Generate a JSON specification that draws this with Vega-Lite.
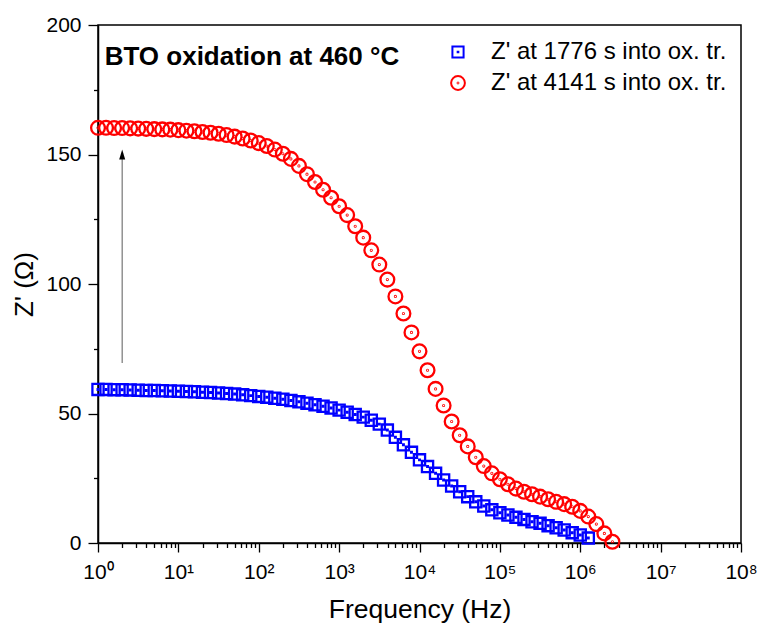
{
  "$schema": "https://vega.github.io/schema/vega-lite/v6.json",
  "width": 643,
  "height": 518,
  "autosize": {"type": "none"},
  "padding": {"left": 98, "top": 25, "right": 19, "bottom": 83},
  "background": "white",
  "config": {
    "font": "Liberation Sans",
    "view": {"stroke": "black", "strokeWidth": 1.5},
    "axis": {"domainColor": "black", "domainWidth": 1.5, "tickColor": "black", "tickWidth": 1.3, "labelColor": "black", "titleColor": "black", "grid": false}
  },
  "datasets": {
    "series": [
      {"f": 1, "z": 59.3, "s": "1776"}, {"f": 1.259, "z": 59.3, "s": "1776"}, {"f": 1.585, "z": 59.2, "s": "1776"}, {"f": 1.995, "z": 59.2, "s": "1776"}, {"f": 2.512, "z": 59.1, "s": "1776"}, {"f": 3.162, "z": 59.0, "s": "1776"}, {"f": 3.981, "z": 58.9, "s": "1776"}, {"f": 5.012, "z": 58.9, "s": "1776"}, {"f": 6.31, "z": 58.8, "s": "1776"}, {"f": 7.943, "z": 58.7, "s": "1776"},
      {"f": 10, "z": 58.6, "s": "1776"}, {"f": 12.59, "z": 58.5, "s": "1776"}, {"f": 15.85, "z": 58.4, "s": "1776"}, {"f": 19.95, "z": 58.2, "s": "1776"}, {"f": 25.12, "z": 58.1, "s": "1776"}, {"f": 31.62, "z": 57.9, "s": "1776"}, {"f": 39.81, "z": 57.7, "s": "1776"}, {"f": 50.12, "z": 57.5, "s": "1776"}, {"f": 63.1, "z": 57.2, "s": "1776"}, {"f": 79.43, "z": 56.9, "s": "1776"},
      {"f": 100, "z": 56.6, "s": "1776"}, {"f": 125.9, "z": 56.3, "s": "1776"}, {"f": 158.5, "z": 55.9, "s": "1776"}, {"f": 199.5, "z": 55.5, "s": "1776"}, {"f": 251.2, "z": 55.0, "s": "1776"}, {"f": 316.2, "z": 54.5, "s": "1776"}, {"f": 398.1, "z": 54.0, "s": "1776"}, {"f": 501.2, "z": 53.4, "s": "1776"}, {"f": 631, "z": 52.8, "s": "1776"}, {"f": 794.3, "z": 52.1, "s": "1776"},
      {"f": 1000, "z": 51.3, "s": "1776"}, {"f": 1259, "z": 50.5, "s": "1776"}, {"f": 1585, "z": 49.6, "s": "1776"}, {"f": 1995, "z": 48.6, "s": "1776"}, {"f": 2512, "z": 47.4, "s": "1776"}, {"f": 3162, "z": 45.9, "s": "1776"}, {"f": 3981, "z": 43.6, "s": "1776"}, {"f": 5012, "z": 40.8, "s": "1776"}, {"f": 6310, "z": 37.9, "s": "1776"}, {"f": 7943, "z": 35.0, "s": "1776"},
      {"f": 10000, "z": 32.1, "s": "1776"}, {"f": 12590, "z": 29.5, "s": "1776"}, {"f": 15850, "z": 26.9, "s": "1776"}, {"f": 19950, "z": 24.3, "s": "1776"}, {"f": 25120, "z": 22.0, "s": "1776"}, {"f": 31620, "z": 19.8, "s": "1776"}, {"f": 39810, "z": 17.9, "s": "1776"}, {"f": 50120, "z": 15.9, "s": "1776"}, {"f": 63100, "z": 14.3, "s": "1776"}, {"f": 79430, "z": 12.8, "s": "1776"},
      {"f": 100000, "z": 11.7, "s": "1776"}, {"f": 125900, "z": 10.8, "s": "1776"}, {"f": 158500, "z": 9.9, "s": "1776"}, {"f": 199500, "z": 9.1, "s": "1776"}, {"f": 251200, "z": 8.2, "s": "1776"}, {"f": 316200, "z": 7.6, "s": "1776"}, {"f": 398100, "z": 6.7, "s": "1776"}, {"f": 501200, "z": 5.9, "s": "1776"}, {"f": 631000, "z": 5.0, "s": "1776"}, {"f": 794300, "z": 4.0, "s": "1776"},
      {"f": 1000000, "z": 3.1, "s": "1776"}, {"f": 1259000, "z": 1.9, "s": "1776"},
      {"f": 1, "z": 160.3, "s": "4141"}, {"f": 1.259, "z": 160.3, "s": "4141"}, {"f": 1.585, "z": 160.2, "s": "4141"}, {"f": 1.995, "z": 160.2, "s": "4141"}, {"f": 2.512, "z": 160.1, "s": "4141"}, {"f": 3.162, "z": 160.0, "s": "4141"}, {"f": 3.981, "z": 159.9, "s": "4141"}, {"f": 5.012, "z": 159.8, "s": "4141"}, {"f": 6.31, "z": 159.7, "s": "4141"}, {"f": 7.943, "z": 159.6, "s": "4141"},
      {"f": 10, "z": 159.4, "s": "4141"}, {"f": 12.59, "z": 159.2, "s": "4141"}, {"f": 15.85, "z": 159.0, "s": "4141"}, {"f": 19.95, "z": 158.7, "s": "4141"}, {"f": 25.12, "z": 158.4, "s": "4141"}, {"f": 31.62, "z": 158.0, "s": "4141"}, {"f": 39.81, "z": 157.5, "s": "4141"}, {"f": 50.12, "z": 156.9, "s": "4141"}, {"f": 63.1, "z": 156.2, "s": "4141"}, {"f": 79.43, "z": 155.4, "s": "4141"},
      {"f": 100, "z": 154.4, "s": "4141"}, {"f": 125.9, "z": 153.3, "s": "4141"}, {"f": 158.5, "z": 151.9, "s": "4141"}, {"f": 199.5, "z": 150.3, "s": "4141"}, {"f": 251.2, "z": 148.3, "s": "4141"}, {"f": 316.2, "z": 145.6, "s": "4141"}, {"f": 398.1, "z": 142.4, "s": "4141"}, {"f": 501.2, "z": 139.4, "s": "4141"}, {"f": 631, "z": 136.4, "s": "4141"}, {"f": 794.3, "z": 133.3, "s": "4141"},
      {"f": 1000, "z": 130.0, "s": "4141"}, {"f": 1259, "z": 126.6, "s": "4141"}, {"f": 1585, "z": 122.3, "s": "4141"}, {"f": 1995, "z": 117.9, "s": "4141"}, {"f": 2512, "z": 113.0, "s": "4141"}, {"f": 3162, "z": 107.5, "s": "4141"}, {"f": 3981, "z": 101.7, "s": "4141"}, {"f": 5012, "z": 95.2, "s": "4141"}, {"f": 6310, "z": 88.6, "s": "4141"}, {"f": 7943, "z": 81.3, "s": "4141"},
      {"f": 10000, "z": 74.0, "s": "4141"}, {"f": 12590, "z": 66.7, "s": "4141"}, {"f": 15850, "z": 59.5, "s": "4141"}, {"f": 19950, "z": 53.1, "s": "4141"}, {"f": 25120, "z": 46.9, "s": "4141"}, {"f": 31620, "z": 41.6, "s": "4141"}, {"f": 39810, "z": 37.3, "s": "4141"}, {"f": 50120, "z": 33.1, "s": "4141"}, {"f": 63100, "z": 29.7, "s": "4141"}, {"f": 79430, "z": 26.9, "s": "4141"},
      {"f": 100000, "z": 24.6, "s": "4141"}, {"f": 125900, "z": 22.7, "s": "4141"}, {"f": 158500, "z": 21.0, "s": "4141"}, {"f": 199500, "z": 19.8, "s": "4141"}, {"f": 251200, "z": 18.8, "s": "4141"}, {"f": 316200, "z": 17.9, "s": "4141"}, {"f": 398100, "z": 16.9, "s": "4141"}, {"f": 501200, "z": 15.9, "s": "4141"}, {"f": 631000, "z": 15.0, "s": "4141"}, {"f": 794300, "z": 14.0, "s": "4141"},
      {"f": 1000000, "z": 12.4, "s": "4141"}, {"f": 1259000, "z": 10.2, "s": "4141"}, {"f": 1585000, "z": 7.3, "s": "4141"}, {"f": 1995000, "z": 3.7, "s": "4141"}, {"f": 2512000, "z": 0.5, "s": "4141"}
    ],
    "arrow": [
      {"f": 2, "y1": 69.5, "y2": 149, "tip": 150}
    ]
  },
  "layer": [
    {
      "data": {"name": "arrow"},
      "mark": {"type": "rule", "color": "#808080", "strokeWidth": 1.3},
      "encoding": {
        "x": {"field": "f", "type": "quantitative", "scale": {"type": "log", "domain": [1, 100000000], "nice": false}},
        "y": {"field": "y1", "type": "quantitative"},
        "y2": {"field": "y2"}
      }
    },
    {
      "data": {"name": "arrow"},
      "mark": {"type": "point", "shape": "M0,-1L0.6,1L-0.6,1Z", "filled": true, "color": "black", "size": 100, "opacity": 1},
      "encoding": {
        "x": {"field": "f", "type": "quantitative"},
        "y": {"field": "tip", "type": "quantitative"}
      }
    },
    {
      "data": {"name": "arrow"},
      "mark": {"type": "text", "text": "BTO oxidation at 460 °C", "fontSize": 26, "fontWeight": "bold", "color": "black", "align": "left", "baseline": "alphabetic"},
      "encoding": {
        "x": {"datum": 1.21, "type": "quantitative"},
        "y": {"datum": 184.6, "type": "quantitative"}
      }
    },
    {
      "data": {"name": "series"},
      "mark": {"type": "point", "filled": false, "strokeWidth": 2.3, "opacity": 1},
      "encoding": {
        "x": {
          "field": "f", "type": "quantitative",
          "scale": {"type": "log", "domain": [1, 100000000], "nice": false},
          "axis": {
            "title": "Frequency (Hz)",
            "titleFontSize": 26.5, "titleFontWeight": "normal", "titlePadding": 14,
            "labelFontSize": 21, "labelPadding": 9, "labelOverlap": false, "labelFlush": false, "labelBound": false,
            "values": [1,2,3,4,5,6,7,8,9,10,20,30,40,50,60,70,80,90,100,200,300,400,500,600,700,800,900,1000,2000,3000,4000,5000,6000,7000,8000,9000,10000,20000,30000,40000,50000,60000,70000,80000,90000,100000,200000,300000,400000,500000,600000,700000,800000,900000,1000000,2000000,3000000,4000000,5000000,6000000,7000000,8000000,9000000,10000000,20000000,30000000,40000000,50000000,60000000,70000000,80000000,90000000,100000000],
            "labelExpr": "abs(log(datum.value)/LN10 - round(log(datum.value)/LN10)) < 0.001 ? '10' + ['⁰','¹','²','³','⁴','⁵','⁶','⁷','⁸'][round(log(datum.value)/LN10)] : ''",
            "tickSize": {"condition": {"test": "abs(log(datum.value)/LN10 - round(log(datum.value)/LN10)) < 0.001", "value": 9}, "value": 4.5}
          }
        },
        "y": {
          "field": "z", "type": "quantitative",
          "scale": {"domain": [0, 200], "nice": false},
          "axis": {
            "title": "Z' (Ω)",
            "titleFontSize": 26, "titleFontWeight": "normal", "titlePadding": 8,
            "labelFontSize": 21, "labelPadding": 7, "labelOverlap": false, "labelFlush": false,
            "values": [0, 25, 50, 75, 100, 125, 150, 175, 200],
            "labelExpr": "datum.value % 50 == 0 ? datum.label : ''",
            "tickSize": {"condition": {"test": "datum.value % 50 == 0", "value": 10}, "value": 4.5}
          }
        },
        "color": {
          "field": "s", "type": "nominal",
          "scale": {"domain": ["1776", "4141"], "range": ["#0000ff", "#ff0000"]},
          "legend": {
            "title": null,
            "orient": "none",
            "legendX": 348,
            "legendY": 15,
            "labelFontSize": 24,
            "labelColor": "black",
            "labelLimit": 400,
            "labelOffset": 21,
            "rowPadding": 7,
            "symbolSize": 140,
            "symbolStrokeWidth": 2,
            "symbolFillColor": "transparent",
            "labelExpr": "\"Z' at \" + datum.label + \" s into ox. tr.\""
          }
        },
        "shape": {
          "field": "s", "type": "nominal",
          "scale": {"domain": ["1776", "4141"], "range": ["M-1,-1H1V1H-1Z M-0.06,-0.06H0.06V0.06H-0.06Z", "M1,0A1,1,0,1,1,-1,0A1,1,0,1,1,1,0Z M0.06,0A0.06,0.06,0,1,1,-0.06,0A0.06,0.06,0,1,1,0.06,0Z"]}
        },
        "size": {
          "field": "s", "type": "nominal",
          "scale": {"domain": ["1776", "4141"], "range": [125, 190]},
          "legend": null
        },
        "order": {"field": "s", "type": "nominal"}
      }
    }
  ]
}
